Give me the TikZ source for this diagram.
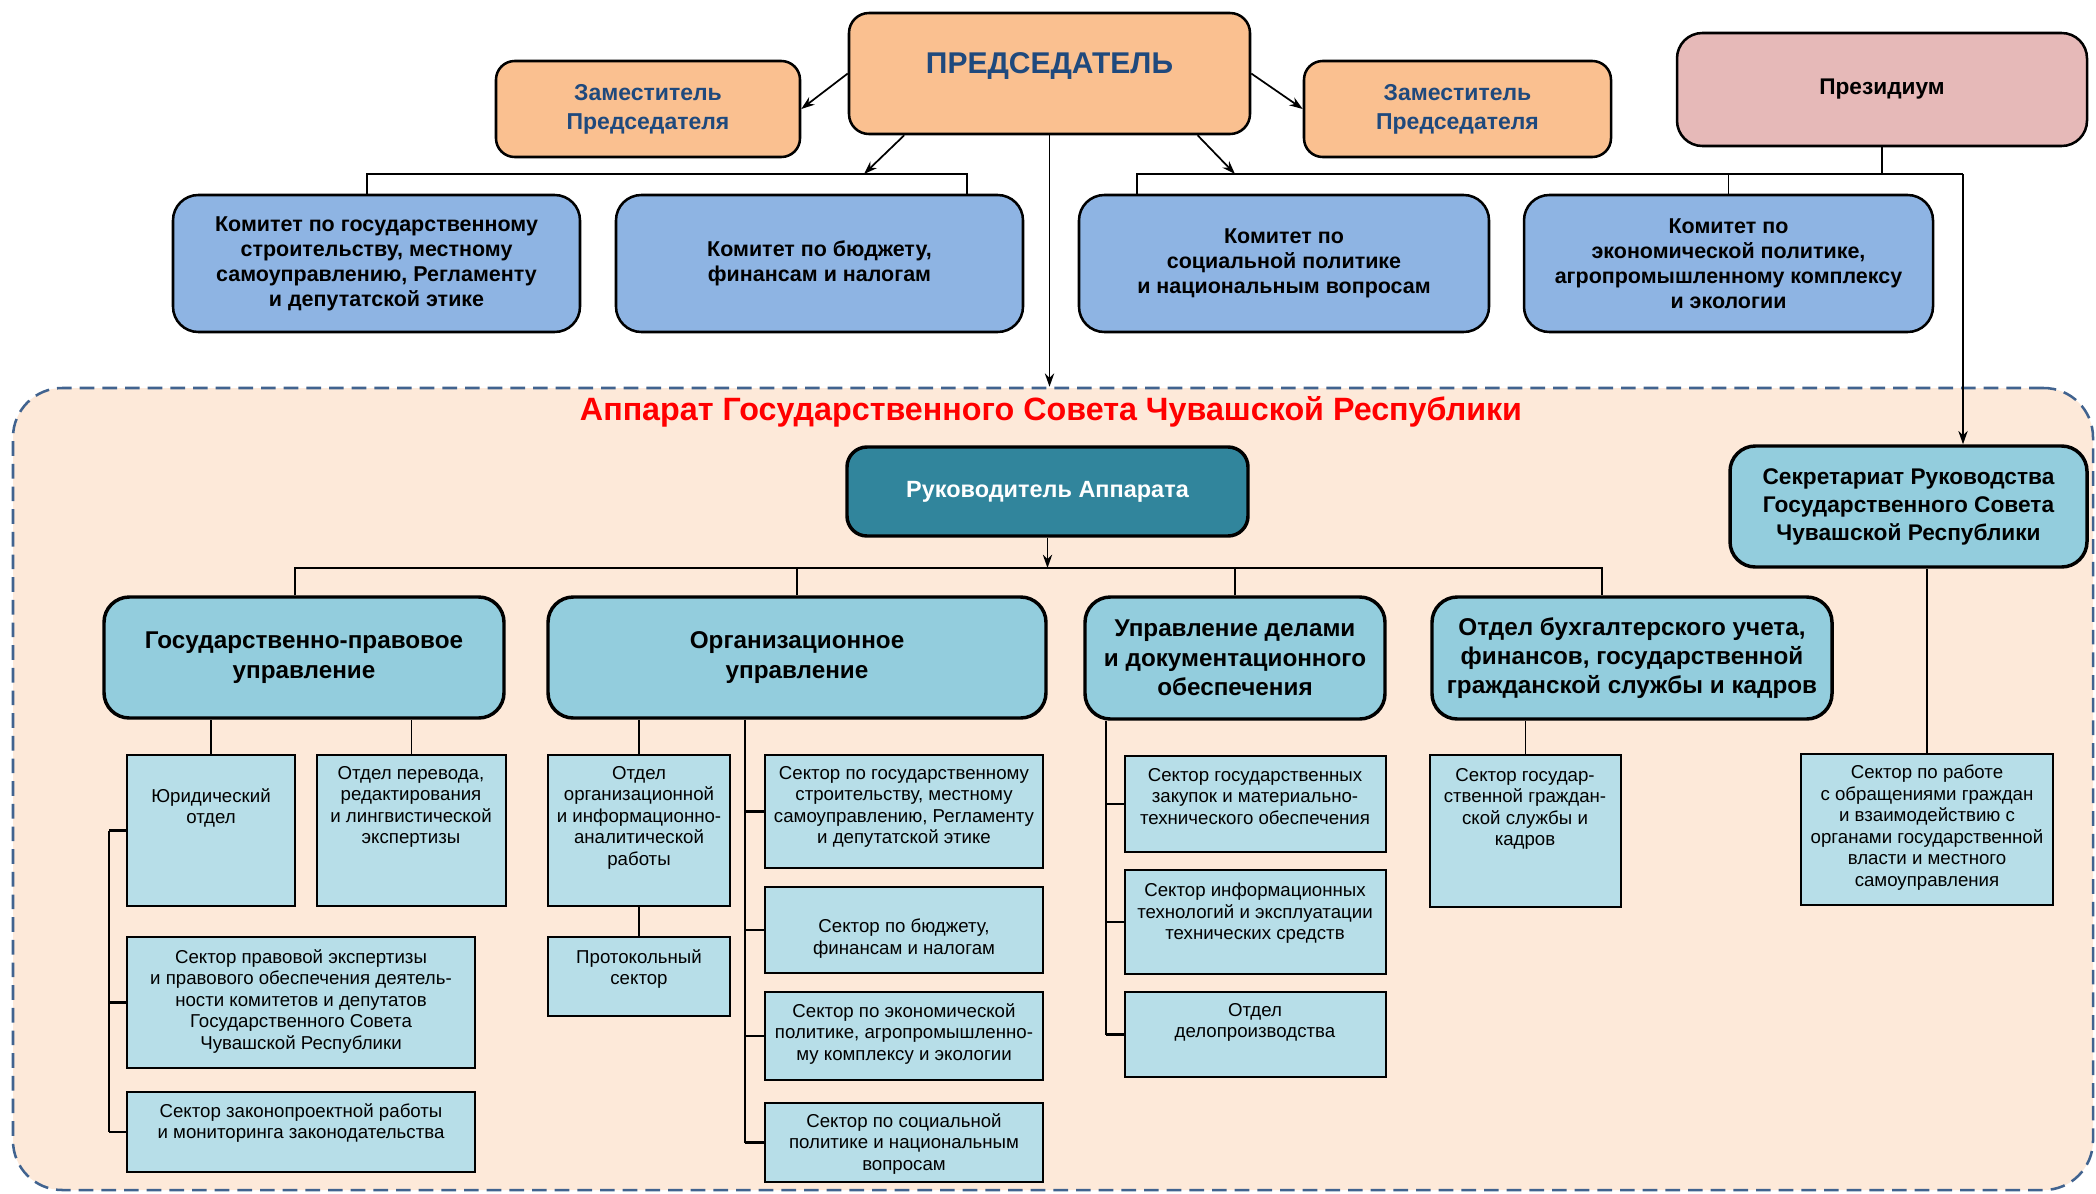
\documentclass[tikz,border=0pt]{standalone}
\usepackage{fontspec}
\setmainfont{Liberation Sans}
\usetikzlibrary{arrows.meta,positioning,fit,calc}

\definecolor{predfill}{HTML}{FAC090}
\definecolor{prezfill}{HTML}{E6B9B8}
\definecolor{komfill}{HTML}{8EB4E3}
\definecolor{rukfill}{HTML}{31859C}
\definecolor{upfill}{HTML}{93CDDD}
\definecolor{cellfill}{HTML}{B7DEE8}
\definecolor{appfill}{HTML}{FDE9D9}
\definecolor{appline}{HTML}{41638F}
\definecolor{predtext}{HTML}{1F497D}

\tikzset{
  sz/.style 2 args={minimum width=#1*0.75pt, minimum height=#2*0.75pt},
  conn/.style={line width=1.3pt},
  arr/.style={conn, -{Stealth[length=10pt,width=7pt]}},
  tick/.style={line width=2pt},
  topbox/.style={draw, line width=1.9pt, rounded corners=14pt, inner sep=0pt, align=center},
  predbox/.style={topbox, fill=predfill, text=predtext},
  kombox/.style={topbox, fill=komfill, rounded corners=19pt, font=\bfseries\fontsize{16.1}{18.75}\selectfont},
  upbox/.style={draw, line width=2.6pt, fill=upfill, rounded corners=19pt, inner sep=0pt, align=center, font=\bfseries\fontsize{18.2}{22}\selectfont},
  cell/.style={draw, line width=1.5pt, fill=cellfill, inner sep=0pt},
  celltxt/.style={anchor=north, align=center, inner sep=0pt, font=\fontsize{14}{16.1}\selectfont},
  appframe/.style={draw=appline, line width=1.9pt, dash pattern=on 11pt off 6pt, fill=appfill, rounded corners=37pt, inner sep=0pt},
  apptitle/.style={text=red, inner sep=0pt, font=\bfseries\fontsize{24.2}{28}\selectfont}
}

\begin{document}
\begin{tikzpicture}[x=0.75pt,y=0.75pt,yscale=-1,xscale=1]
\useasboundingbox (0,0) rectangle (2096,1193);

%Dashed frame of the Apparatus
\node[appframe, fit={(13,388) (2093,1190)}] (app) {};
% Text Node
\node[apptitle, anchor=base] (tit) at (1051,420) {Аппарат Государственного Совета Чувашской Республики};

%Top level
\node[predbox, sz={401}{121}, rounded corners=15pt, text depth=15pt, font=\bfseries\fontsize{22.5}{27}\selectfont] (pred) at (1049.5,73.5) {ПРЕДСЕДАТЕЛЬ};
\node[predbox, sz={304}{96}, font=\bfseries\fontsize{17.25}{21.75}\selectfont] (zam1) at (648,109) {Заместитель\\Председателя};
\node[predbox, sz={307}{96}, font=\bfseries\fontsize{17.25}{21.75}\selectfont] (zam2) at (1457.5,109) {Заместитель\\Председателя};
\node[topbox, sz={410}{113}, fill=prezfill, rounded corners=19pt, font=\bfseries\fontsize{17}{20}\selectfont] (prez) at (1882,89.5) {Президиум};

%Committees
\node[kombox, sz={407}{137}] (k1) at (376.5,263.5) {Комитет по государственному\\строительству, местному\\самоуправлению, Регламенту\\и депутатской этике};
\node[kombox, sz={407}{137}] (k2) at (819.5,263.5) {Комитет по бюджету,\\финансам и налогам};
\node[kombox, sz={410}{137}] (k3) at (1284,263.5) {Комитет по\\социальной политике\\и национальным вопросам};
\node[kombox, sz={409}{137}] (k4) at (1728.5,263.5) {Комитет по\\экономической политике,\\агропромышленному комплексу\\и экологии};

%Head of the Apparatus and Secretariat
\node[upbox, sz={401}{89}, fill=rukfill, text=white, rounded corners=15pt, font=\bfseries\fontsize{17.6}{21}\selectfont] (ruk) at (1047.5,491.5) {Руководитель Аппарата};
\node[upbox, sz={357}{121}, font=\bfseries\fontsize{17}{21}\selectfont] (sec) at (1908.5,506.5) {Секретариат Руководства\\Государственного Совета\\Чувашской Республики};

%Departments
\node[upbox, sz={400}{121}] (gp) at (304,657.5) {Государственно-правовое\\управление};
\node[upbox, sz={498}{121}] (org) at (797,657.5) {Организационное\\управление};
\node[upbox, sz={300}{122}] (upr) at (1235,658) {Управление делами\\и документационного\\обеспечения};
\node[upbox, sz={400}{122}] (ob) at (1632,658) {Отдел бухгалтерского учета,\\финансов, государственной\\гражданской службы и кадров};

%Units
\node[cell, fit={(127,755) (295,906)}] (yur) {};
\node[cell, fit={(317,755) (506,906)}] (per) {};
\node[cell, fit={(127,937) (475,1068)}] (pra) {};
\node[cell, fit={(127,1092) (475,1172)}] (zak) {};
\node[cell, fit={(548,755) (730,906)}] (ooi) {};
\node[cell, fit={(548,937) (730,1016)}] (pro) {};
\node[cell, fit={(765,755) (1043,868)}] (sgs) {};
\node[cell, fit={(765,887) (1043,973)}] (sbu) {};
\node[cell, fit={(765,992) (1043,1080)}] (sek) {};
\node[cell, fit={(765,1103) (1043,1182)}] (sso) {};
\node[cell, fit={(1125,756) (1386,852)}] (szk) {};
\node[cell, fit={(1125,870) (1386,974)}] (sit) {};
\node[cell, fit={(1125,992) (1386,1077)}] (sdp) {};
\node[cell, fit={(1430,755) (1621,907)}] (sgg) {};
\node[cell, fit={(1801,754) (2053,905)}] (sro) {};

% Text Node
\node[celltxt] (yur-t) at (211,788) {Юридический\\отдел};
\node[celltxt] (per-t) at (411,766) {Отдел перевода,\\редактирования\\и лингвистической\\экспертизы};
\node[celltxt] (pra-t) at (301,949) {Сектор правовой экспертизы\\и правового обеспечения деятель-\\ности комитетов и депутатов\\Государственного Совета\\Чувашской Республики};
\node[celltxt] (zak-t) at (301,1103) {Сектор законопроектной работы\\и мониторинга законодательства};
\node[celltxt] (ooi-t) at (639,766) {Отдел\\организационной\\и информационно-\\аналитической\\работы};
\node[celltxt] (pro-t) at (639,949) {Протокольный\\сектор};
\node[celltxt] (sgs-t) at (904,766) {Сектор по государственному\\строительству, местному\\самоуправлению, Регламенту\\и депутатской этике};
\node[celltxt] (sbu-t) at (904,919) {Сектор по бюджету,\\финансам и налогам};
\node[celltxt] (sek-t) at (904,1003) {Сектор по экономической\\политике, агропромышленно-\\му комплексу и экологии};
\node[celltxt] (sso-t) at (904,1113) {Сектор по социальной\\политике и национальным\\вопросам};
\node[celltxt] (szk-t) at (1255,768) {Сектор государственных\\закупок и материально-\\технического обеспечения};
\node[celltxt] (sit-t) at (1255,883) {Сектор информационных\\технологий и эксплуатации\\технических средств};
\node[celltxt] (sdp-t) at (1255,1003) {Отдел\\делопроизводства};
\node[celltxt] (sgg-t) at (1525,768) {Сектор государ-\\ственной граждан-\\ской службы и\\кадров};
\node[celltxt] (sro-t) at (1927,765) {Сектор по работе\\с обращениями граждан\\и взаимодействию с\\органами государственной\\власти и местного\\самоуправления};

%Bus corners
\coordinate (b1l) at (367,174);
\coordinate (b1r) at (967,174);
\coordinate (a1) at (864,174);
\coordinate (b2l) at (1137,174);
\coordinate (b2r) at (1963,174);
\coordinate (a2) at (1235,174);
\coordinate (b3l) at (295,568);
\coordinate (b3r) at (1602,568);
\coordinate (gpbus) at (109,0);
\coordinate (orgbus) at (745,0);
\coordinate (uprbus) at (1106,0);

%Straight Lines
\draw[arr] (pred.west) -- (zam1.east);
\draw[arr] (pred.east) -- (zam2.west);
\draw[conn] (k1.north -| b1l) -- (b1l) -- (b1r) -- (k2.north -| b1r);
\draw[arr] ($(pred.south west)!0.14!(pred.south east)$) -- (a1);
\draw[conn] (k3.north -| b2l) -- (b2l) -- (b2r);
\draw[conn] (prez.south) -- (prez.south |- b2r);
\draw[conn] (k4.north) -- (k4.north |- b2r);
\draw[arr] ($(pred.south west)!0.867!(pred.south east)$) -- (a2);
\draw[arr] (b2r) -- (sec.north -| b2r);
\draw[arr] (pred.south) -- (pred.south |- app.north);

\draw[arr] (ruk.south) -- (ruk.south |- b3l);
\draw[conn] (gp.north -| b3l) -- (b3l) -- (b3r) -- (ob.north -| b3r);
\draw[conn] (org.north) -- (org.north |- b3l);
\draw[conn] (upr.north) -- (upr.north |- b3l);

\draw[conn] (yur.north) -- (yur.north |- gp.south);
\draw[conn] (per.north) -- (per.north |- gp.south);
\draw[conn] (yur.west -| gpbus) -- (zak.west -| gpbus);
\draw[tick] (yur.west) -- (yur.west -| gpbus);
\draw[tick] (pra.west) -- (pra.west -| gpbus);
\draw[tick] (zak.west) -- (zak.west -| gpbus);

\draw[conn] (ooi.north) -- (ooi.north |- org.south);
\draw[conn] (ooi.south) -- (pro.north);
\draw[conn] (org.south -| orgbus) -- (sso.west -| orgbus);
\draw[tick] (sgs.west) -- (sgs.west -| orgbus);
\draw[tick] (sbu.west) -- (sbu.west -| orgbus);
\draw[tick] (sek.west) -- (sek.west -| orgbus);
\draw[tick] (sso.west) -- (sso.west -| orgbus);

\draw[conn] (upr.south -| uprbus) -- (sdp.west -| uprbus);
\draw[tick] (szk.west) -- (szk.west -| uprbus);
\draw[tick] (sit.west) -- (sit.west -| uprbus);
\draw[tick] (sdp.west) -- (sdp.west -| uprbus);

\draw[conn] (sgg.north) -- (sgg.north |- ob.south);
\draw[conn] (sro.north) -- (sro.north |- sec.south);
\end{tikzpicture}
\end{document}
